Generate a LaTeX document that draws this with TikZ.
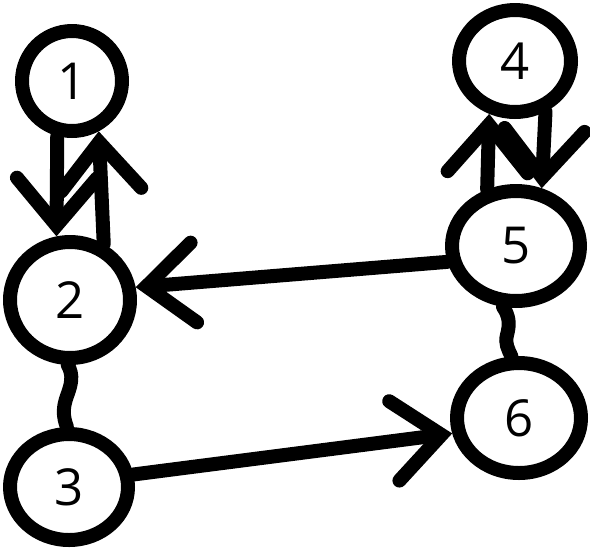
\documentclass[tikz,border=0pt]{standalone}
\usepackage{fontspec}
\setmainfont{Open Sans}
\usetikzlibrary{arrows.meta,shapes.geometric}

\begin{document}
\begin{tikzpicture}
[ x=0.02cm, y=-0.02cm, line width=0.28cm, line cap=round
, vertex/.style={ellipse, draw, inner sep=0pt, font=\fontsize{29}{30}\selectfont}
, edge/.style={-{Straight Barb[length=0.95cm, width=1.6cm, line cap=round]}}
]
\useasboundingbox (0,0) rectangle (590,549);
% Left column:
\node (v1) [vertex, minimum width=2cm, minimum height=2cm] at (72,81) {1};
\node (v2) [vertex, minimum width=2.4cm, minimum height=2.32cm] at (70,300) {2};
\node (v3) [vertex, minimum width=2.36cm, minimum height=2.12cm] at (69,487) {3};
% Right column:
\node (v4) [vertex, minimum width=2.24cm, minimum height=2.04cm] at (515,61) {4};
\node (v5) [vertex, minimum width=2.56cm, minimum height=2.2cm] at (516,246) {5};
\node (v6) [vertex, minimum width=2.48cm, minimum height=2.2cm] at (519,418) {6};
% Wiggle points:
\coordinate (w23) at (67,396);
\coordinate (w56) at (507,335);
% Arrows:
\draw [edge] (v1.255) -- (v2.102);
\draw [edge] (v2.59) -- (v1.298);
\draw [edge] (v5.117) -- (v4.244);
\draw [edge] (v4.301) -- (v5.66);
\draw [edge] (v5.193) -- (v2.11);
\draw [edge] (v3.11) -- (v6.193);
% Wavy links:
\draw (v2.268) to[out=-60, in=70] (w23) to[out=-110, in=110] (v3.92);
\draw (v5.258) to[out=-55, in=75] (w56) to[out=-105, in=115] (v6.97);
\end{tikzpicture}
\end{document}
